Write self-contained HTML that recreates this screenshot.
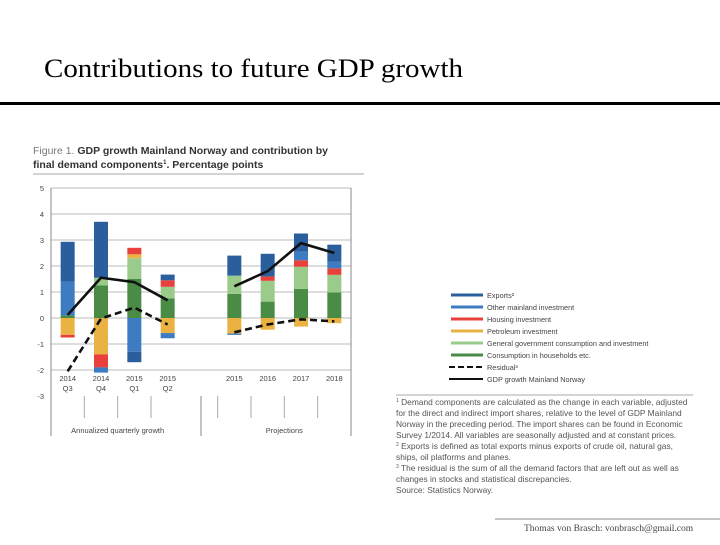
<!DOCTYPE html>
<html><head><meta charset="utf-8"><style>
body{margin:0;background:#fff;width:720px;height:540px;overflow:hidden}
svg text{font-family:"Liberation Sans",sans-serif}
</style></head><body>
<svg id="s" width="720" height="540" xmlns="http://www.w3.org/2000/svg">
<text x="44" y="77" style="font-family:'Liberation Serif',serif" font-size="26" textLength="419" lengthAdjust="spacingAndGlyphs">Contributions to future GDP growth</text>
<rect x="0" y="102" width="720" height="3" fill="#000"/>
<text x="33" y="154" font-size="10.5" fill="#333"><tspan fill="#777">Figure 1. </tspan><tspan font-weight="bold">GDP growth Mainland Norway and contribution by</tspan></text>
<text x="33" y="168" font-size="10.5" font-weight="bold" fill="#333">final demand components<tspan font-size="6" dy="-4">1</tspan><tspan dy="4">. Percentage points</tspan></text>
<line x1="33" y1="174" x2="364" y2="174" stroke="#aaa" stroke-width="1"/>
<g id="chart"></g>
<g id="legend"></g>
<line x1="396" y1="395" x2="693" y2="395" stroke="#aaa"/>
<g font-size="8.4" fill="#555">
<text x="396" y="405"><tspan font-size="5" dy="-3">1</tspan><tspan dy="3"> Demand components are calculated as the change in each variable, adjusted</tspan></text>
<text x="396" y="416">for the direct and indirect import shares, relative to the level of GDP Mainland</text>
<text x="396" y="427">Norway in the preceding period. The import shares can be found in Economic</text>
<text x="396" y="438">Survey 1/2014. All variables are seasonally adjusted and at constant prices.</text>
<text x="396" y="449"><tspan font-size="5" dy="-3">2</tspan><tspan dy="3"> Exports is defined as total exports minus exports of crude oil, natural gas,</tspan></text>
<text x="396" y="460">ships, oil platforms and planes.</text>
<text x="396" y="471"><tspan font-size="5" dy="-3">3</tspan><tspan dy="3"> The residual is the sum of all the demand factors that are left out as well as</tspan></text>
<text x="396" y="482">changes in stocks and statistical discrepancies.</text>
<text x="396" y="493">Source: Statistics Norway.</text>
</g>
<line x1="495" y1="519" x2="720" y2="519" stroke="#888"/>
<text x="524" y="531" font-size="9.5" style="font-family:'Liberation Serif',serif" fill="#444">Thomas von Brasch: vonbrasch@gmail.com</text>
</svg>
<script>
const categories=["2014|Q3","2014|Q4","2015|Q1","2015|Q2","","2015","2016","2017","2018"];
const households=[0.1,1.25,1.5,0.75,null,0.93,0.63,1.12,0.98];
const government=[0,0.3,0.8,0.45,null,0.7,0.8,0.85,0.68];
const petroleum=[-0.65,-1.4,0.15,-0.58,null,-0.6,-0.45,-0.33,-0.2];
const housing=[-0.1,-0.5,0.25,0.25,null,0,0.17,0.25,0.25];
const otherInvest=[1.3,-0.2,-1.3,-0.2,null,-0.05,0,0.33,0.25];
const exportsV=[1.53,2.15,-0.4,0.22,null,0.77,0.87,0.7,0.66];
const gdp=[0.12,1.55,1.38,0.68,null,1.22,1.8,2.88,2.5];
const residual=[-2.05,-0.02,0.4,-0.25,null,-0.55,-0.25,-0.05,-0.13];
const yTicks=[5,4,3,2,1,0,-1,-2,-3];

const NS="http://www.w3.org/2000/svg";
const g=document.getElementById('chart');
const X0=51,X1=351,Y0=318,U=26;
const sw=(X1-X0)/categories.length;
const xc=i=>X0+sw*(i+0.5);
const y=v=>Y0-v*U;
function el(t,a,p){const e=document.createElementNS(NS,t);for(const k in a)e.setAttribute(k,a[k]);(p||g).appendChild(e);return e;}
yTicks.forEach(t=>{
 if(t!==-3){const l=el('line',{x1:X0,x2:X1,y1:y(t),y2:y(t),stroke:'#bbb','stroke-width':1});
 
 }
 const tx=el('text',{x:44,y:y(t)+3,'font-size':7.5,fill:'#444','text-anchor':'end'});tx.textContent=t;
 
 
});
el('line',{x1:X0,x2:X0,y1:y(5),y2:436,stroke:'#888'});
el('line',{x1:X1,x2:X1,y1:y(5),y2:436,stroke:'#888'});
el('line',{x1:X0+sw*4.5,x2:X0+sw*4.5,y1:396,y2:436,stroke:'#888'});
for(let i=1;i<categories.length;i++){if(i===4)continue;el('line',{x1:X0+sw*i,x2:X0+sw*i,y1:396,y2:418,stroke:'#aaa'});}
const series=[["households",households,"#4a8c45"],["government",government,"#9acb8a"],["petroleum",petroleum,"#eab243"],["housing",housing,"#e8403a"],["other-mainland-investment",otherInvest,"#3d7cc2"],["exports",exportsV,"#2a5e9c"]];
const bw=14;
categories.forEach((c,i)=>{
 let pos=0,neg=0;
 series.forEach(([n,arr,col])=>{
  const v=arr[i];if(v==null||v===0)return;
  let a,b;if(v>0){a=pos;b=pos+v;pos=b;}else{a=neg;b=neg+v;neg=b;}
  const r=el('rect',{x:xc(i)-bw/2,y:y(Math.max(a,b)),width:bw,height:Math.abs(v)*U,fill:col});
  
  
 });
 if(c){const p=c.split('|');p.forEach((s,k)=>{const t=el('text',{x:xc(i),y:381+k*10,'font-size':7.5,fill:'#444','text-anchor':'middle'});t.textContent=s;
 
 });}
});
[["Annualized quarterly growth",X0+sw*2],["Projections",X0+sw*7]].forEach(([s,x])=>{const t=el('text',{x:x,y:433,'font-size':7.5,fill:'#444','text-anchor':'middle'});t.textContent=s;
 
 });
function line(arr,dash,name){
 [[0,4],[5,9]].forEach(([s,e])=>{let d='';for(let i=s;i<e;i++)d+=(i===s?'M':'L')+xc(i)+','+y(arr[i]);
  const p=el('path',{d:d,fill:'none',stroke:'#111','stroke-width':2.6});if(dash)p.setAttribute('stroke-dasharray','7,4');
  
  });
}
line(residual,true,'residual-line');line(gdp,false,'gdp-growth-line');
const lg=document.getElementById('legend');
const items=[["Exports²","#2a5e9c",0],["Other mainland investment","#3d7cc2",0],["Housing investment","#e8403a",0],["Petroleum investment","#eab243",0],["General government consumption and investment","#9acb8a",0],["Consumption in households etc.","#4a8c45",0],["Residual³","#111",1],["GDP growth  Mainland Norway","#111",2]];
items.forEach(([s,c,t],k)=>{const yy=295+k*12;
 const l=el('line',{x1:t?449:451,x2:483,y1:yy,y2:yy,stroke:c,'stroke-width':t?2:3},lg);if(t===1)l.setAttribute('stroke-dasharray','6,3');
 
 
 const tx=el('text',{x:487,y:yy+3,'font-size':7.3,fill:'#444'},lg);tx.textContent=s;
 
 
});
</script>
</body></html>
